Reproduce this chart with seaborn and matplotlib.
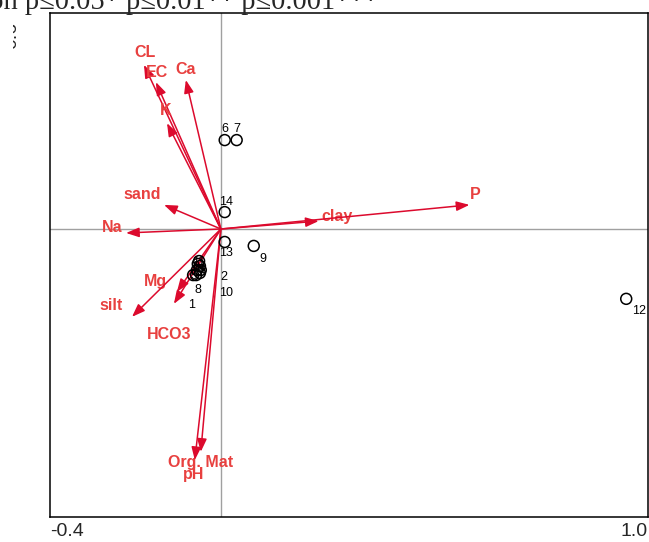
import numpy as np
import pandas as pd
import matplotlib.pyplot as plt
import seaborn as sns
from matplotlib.patches import Rectangle

sns.set_style('white')
plt.rcParams['font.family'] = ['Liberation Sans', 'DejaVu Sans']

arrow_red = '#dc0a2d'
label_red = '#e8403f'

# environmental variables: arrow tips (axis 1, axis 2)
env_names = ['CL', 'EC', 'Ca', 'K', 'sand', 'Na', 'clay', 'P',
             'Mg', 'HCO3', 'silt', 'Org. Mat', 'pH']
env_x = [-0.180, -0.152, -0.082, -0.126, -0.133, -0.222, 0.229, 0.582,
         -0.103, -0.110, -0.208, -0.047, -0.061]
env_y = [0.456, 0.408, 0.414, 0.294, 0.067, -0.011, 0.022, 0.067,
         -0.175, -0.208, -0.244, -0.619, -0.642]

# sites (samples)
site_names = ['1', '2', '3', '4', '5', '6', '7', '8', '9', '10', '11', '12', '13', '14']
site_x = [-0.065, -0.047, -0.054, -0.049, -0.056, 0.009, 0.037, -0.058,
          0.077, -0.049, -0.051, 0.949, 0.009, 0.009]
site_y = [-0.128, -0.114, -0.097, -0.103, -0.114, 0.247, 0.247, -0.128,
          -0.047, -0.122, -0.089, -0.194, -0.036, 0.047]

# label offsets in pixels (right, up)
env_off = [(1, 12), (1, 10), (0, 10), (-1, 13), (-22, 10), (-14, 5), (18, 5), (6, 10),
           (-21, 10), (-5, -31), (-21, 11), (0, -11), (-1, -14)]
site_off = [(-2, -30), (23, -7), (-2, -3), (2, -6), (-3, -6), (0, 11), (0, 11), (2, -15),
            (9, -13), (26, -20), (0, -1), (13, -12), (1, -11), (1, 10)]

sites = pd.DataFrame({'ax1': site_x, 'ax2': site_y, 'site': site_names})

fig = plt.figure(figsize=(6.49, 5.42), dpi=100)
ax = fig.add_axes([50 / 649, 25 / 542, 598 / 649, 504 / 542])

ax.axhline(0, color='#a0a0a0', lw=1.0, zorder=0)
ax.axvline(0, color='#a0a0a0', lw=1.0, zorder=0)

for name, x, y, (dx, dy) in zip(env_names, env_x, env_y, env_off):
    ax.annotate('', xy=(x, y), xytext=(0, 0),
                arrowprops=dict(arrowstyle='-|>,head_length=0.65,head_width=0.24',
                                color=arrow_red, lw=1.1, mutation_scale=12,
                                shrinkA=0, shrinkB=0))
    ax.annotate(name, xy=(x, y), xytext=(dx, dy), textcoords='offset pixels',
                ha='center', va='center', color=label_red, fontsize=11.5,
                fontweight='bold')

sns.scatterplot(data=sites, x='ax1', y='ax2', ax=ax, marker='o', s=62,
                facecolor='none', edgecolor='black', linewidth=1.1, zorder=3)

for name, x, y, (dx, dy) in zip(site_names, site_x, site_y, site_off):
    ax.annotate(name, xy=(x, y), xytext=(dx, dy), textcoords='offset pixels',
                ha='center', va='center', color='black', fontsize=9)

ax.set_xlim(-0.4, 1.0)
ax.set_ylim(-0.8, 0.6)
ax.set_xticks(np.linspace(-0.4, 1.0, 8))
ax.set_xticklabels(['-0.4', '', '', '', '', '', '', '1.0'])
ax.set_yticks(np.linspace(-0.8, 0.6, 8))
ax.set_yticklabels([])
xl = ax.get_xticklabels()
xl[0].set_ha('left')
xl[-1].set_ha('right')
ax.tick_params(axis='x', direction='inout', length=3.5, width=1, pad=2.5, labelsize=14)
ax.tick_params(axis='y', direction='inout', length=5, width=1)
ax.set_xlabel('')
ax.set_ylabel('')
for s in ax.spines.values():
    s.set_color('black')
    s.set_linewidth(1.1)

# top label of the vertical axis and the cut-off title
fig.text(20 / 649, 1 - 22 / 542, '0.6', rotation=90, ha='right', va='top', fontsize=14)
fig.patches.append(Rectangle((0, 1 - 60 / 542), 13 / 649, 46 / 542,
                             transform=fig.transFigure, facecolor='white',
                             edgecolor='none', zorder=5))
fig.text(378 / 649, 1 - 9 / 542, 'Correlation p≤0.05* p≤0.01** p≤0.001***',
         ha='right', va='baseline', fontsize=20.5,
         family=['Liberation Serif', 'DejaVu Serif'])

plt.savefig('out.png', dpi=100)
